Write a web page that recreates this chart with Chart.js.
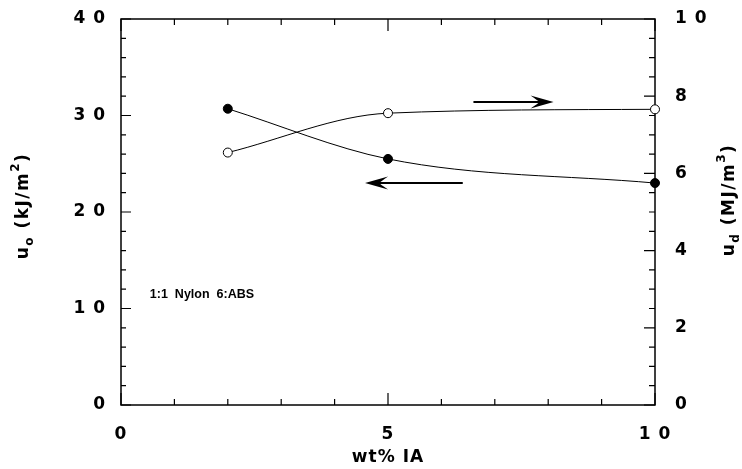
<!DOCTYPE html>
<html>
<head>
<meta charset="utf-8">
<script src="https://cdn.jsdelivr.net/npm/chart.js@4.4.1/dist/chart.umd.min.js"></script>
<style>
  html, body { margin: 0; padding: 0; background: #fff; }
  #wrap { width: 742px; height: 469px; }
</style>
</head>
<body>
<div id="wrap"><canvas id="c" width="742" height="469"></canvas></div>
<script>
// ---- data ----
const wtIA = [2, 5, 10];                 // wt% IA
const uoValues = [30.7, 25.5, 23.0];     // u_o (kJ/m^2), left axis, filled circles
const udValues = [6.54, 7.56, 7.66];     // u_d (MJ/m^3), right axis, open circles
const xTickValues = [0, 5, 10];
const yLeftTickValues = [0, 10, 20, 30, 40];
const yRightTickValues = [0, 2, 4, 6, 8, 10];
const xTitle = 'wt% IA';
const leftTitle = [{t: 'u'}, {t: 'o', sub: true}, {t: ' (kJ/m'}, {t: '2', sup: true}, {t: ')'}];
const rightTitle = [{t: 'u'}, {t: 'd', sub: true}, {t: ' (MJ/m'}, {t: '3', sup: true}, {t: ')'}];
const noteText = '1:1  Nylon  6:ABS';
const noteAt = {x: 0.54, y: 11.07};
const arrowsLeftUnits = [
  {from: 6.6, to: 8.1, at: 31.4},
  {from: 6.4, to: 4.57, at: 23.0}
];

const spaced = v => String(v).split('').join(' ');
const FONT = 'DejaVu Sans';

function toXY(xs, ys) { return xs.map((x, i) => ({x: x, y: ys[i]})); }

function drawRichVertical(ctx, pieces, cx, cy, size) {
  const small = Math.round(size * 0.68);
  ctx.save();
  ctx.translate(cx, cy);
  ctx.rotate(-Math.PI / 2);
  ctx.fillStyle = '#000';
  ctx.textBaseline = 'alphabetic';
  ctx.textAlign = 'left';
  try { ctx.letterSpacing = '1.5px'; } catch (e) {}
  const widths = pieces.map(p => {
    ctx.font = `bold ${(p.sub || p.sup) ? small : size}px "${FONT}"`;
    return ctx.measureText(p.t).width;
  });
  const total = widths.reduce((a, b) => a + b, 0);
  let pos = -total / 2;
  pieces.forEach((p, i) => {
    ctx.font = `bold ${(p.sub || p.sup) ? small : size}px "${FONT}"`;
    const dy = p.sub ? 5 : (p.sup ? -9 : 0);
    ctx.fillText(p.t, pos, dy);
    pos += widths[i];
  });
  ctx.restore();
}

function noScalePadding(s) {
  s.paddingTop = 0; s.paddingBottom = 0; s.paddingLeft = 0; s.paddingRight = 0;
}

const framePlugin = {
  id: 'frame',
  beforeDraw(chart) {
    try { chart.ctx.letterSpacing = '1px'; } catch (e) {}
  },
  beforeDatasetsDraw(chart) {
    const {ctx, chartArea: a, scales} = chart;
    try { ctx.letterSpacing = '0px'; } catch (e) {}
    const x = scales.x, y = scales.y, y2 = scales.y2;
    ctx.save();
    ctx.strokeStyle = '#000';
    ctx.lineWidth = 1.5;
    ctx.strokeRect(a.left, a.top, a.right - a.left, a.bottom - a.top);
    ctx.lineWidth = 1.2;
    ctx.beginPath();
    for (let i = 0; i <= 20; i++) {          // left: every 2 units
      const v = i * 2, py = y.getPixelForValue(v), len = (v % 10 === 0) ? 10 : 5;
      ctx.moveTo(a.left, py); ctx.lineTo(a.left + len, py);
    }
    for (let i = 0; i <= 20; i++) {          // right: every 0.5 units
      const v = i * 0.5, py = y2.getPixelForValue(v), len = (i % 4 === 0) ? 11 : 6;
      ctx.moveTo(a.right, py); ctx.lineTo(a.right - len, py);
    }
    for (let i = 0; i <= 10; i++) {          // bottom & top: every 1 unit
      const px = x.getPixelForValue(i), len = (i % 5 === 0) ? 12 : 6;
      ctx.moveTo(px, a.bottom); ctx.lineTo(px, a.bottom - len);
      ctx.moveTo(px, a.top); ctx.lineTo(px, a.top + len);
    }
    ctx.stroke();
    ctx.restore();
  },
  afterDatasetsDraw(chart) {
    const {ctx, chartArea: a, scales} = chart;
    const x = scales.x, y = scales.y;
    ctx.save();
    ctx.fillStyle = '#000';
    ctx.strokeStyle = '#000';
    // arrows
    arrowsLeftUnits.forEach(ar => {
      const x1 = x.getPixelForValue(ar.from), x2 = x.getPixelForValue(ar.to), py = y.getPixelForValue(ar.at);
      const dir = x2 > x1 ? 1 : -1;
      ctx.lineWidth = 2;
      ctx.beginPath();
      ctx.moveTo(x1, py); ctx.lineTo(x2 - dir * 12, py);
      ctx.stroke();
      ctx.beginPath();
      ctx.moveTo(x2, py);
      ctx.lineTo(x2 - dir * 23, py - 6.5);
      ctx.quadraticCurveTo(x2 - dir * 15, py - 1, x2 - dir * 14, py);
      ctx.quadraticCurveTo(x2 - dir * 15, py + 1, x2 - dir * 23, py + 6.5);
      ctx.closePath();
      ctx.fill();
    });
    // note text
    ctx.font = 'bold 12.5px "Liberation Sans"';
    ctx.textBaseline = 'alphabetic';
    ctx.textAlign = 'left';
    ctx.fillText(noteText, x.getPixelForValue(noteAt.x), y.getPixelForValue(noteAt.y));
    ctx.restore();
    // axis titles with sub/superscripts
    const midY = (a.top + a.bottom) / 2;
    drawRichVertical(ctx, leftTitle, 28, midY - 6, 17);
    drawRichVertical(ctx, rightTitle, 734, midY - 12, 17);
  }
};

const tickFont = {family: FONT, size: 17, weight: 'bold'};

new Chart(document.getElementById('c'), {
  type: 'line',
  data: {
    datasets: [
      {
        label: 'u_o',
        data: toXY(wtIA, uoValues),
        yAxisID: 'y',
        borderColor: '#000',
        borderWidth: 1,
        backgroundColor: '#000',
        pointBackgroundColor: '#000',
        pointBorderColor: '#000',
        pointBorderWidth: 1,
        pointRadius: 4.5,
        cubicInterpolationMode: 'monotone',
        fill: false,
        clip: false
      },
      {
        label: 'u_d',
        data: toXY(wtIA, udValues),
        yAxisID: 'y2',
        borderColor: '#000',
        borderWidth: 1,
        backgroundColor: '#fff',
        pointBackgroundColor: '#fff',
        pointBorderColor: '#000',
        pointBorderWidth: 1,
        pointRadius: 4.5,
        cubicInterpolationMode: 'monotone',
        fill: false,
        clip: false
      }
    ]
  },
  options: {
    responsive: false,
    animation: false,
    devicePixelRatio: 1,
    events: [],
    layout: {padding: {top: 19, left: 0, right: 0, bottom: 0}},
    plugins: {legend: {display: false}, tooltip: {enabled: false}},
    scales: {
      x: {
        type: 'linear', position: 'bottom', min: 0, max: 10,
        afterFit(s) { s.height = 64; noScalePadding(s); },
        afterBuildTicks(s) { s.ticks = xTickValues.map(v => ({value: v})); },
        grid: {display: false, drawTicks: false}, border: {display: false},
        ticks: {padding: 19, color: '#000', font: tickFont, maxRotation: 0, autoSkip: false, callback: v => spaced(v)},
        title: {display: true, text: xTitle, color: '#000', font: tickFont, padding: {top: 0, bottom: 1}}
      },
      y: {
        type: 'linear', position: 'left', min: 0, max: 40,
        afterFit(s) { s.width = 121; noScalePadding(s); },
        afterBuildTicks(s) { s.ticks = yLeftTickValues.map(v => ({value: v})); },
        grid: {display: false, drawTicks: false}, border: {display: false},
        ticks: {padding: 15, color: '#000', font: tickFont, callback: v => spaced(v)}
      },
      y2: {
        type: 'linear', position: 'right', min: 0, max: 10,
        afterFit(s) { s.width = 87; noScalePadding(s); },
        afterBuildTicks(s) { s.ticks = yRightTickValues.map(v => ({value: v})); },
        grid: {display: false, drawTicks: false}, border: {display: false},
        ticks: {padding: 20, color: '#000', font: tickFont, callback: v => spaced(v)}
      }
    }
  },
  plugins: [framePlugin]
});
</script>
</body>
</html>
